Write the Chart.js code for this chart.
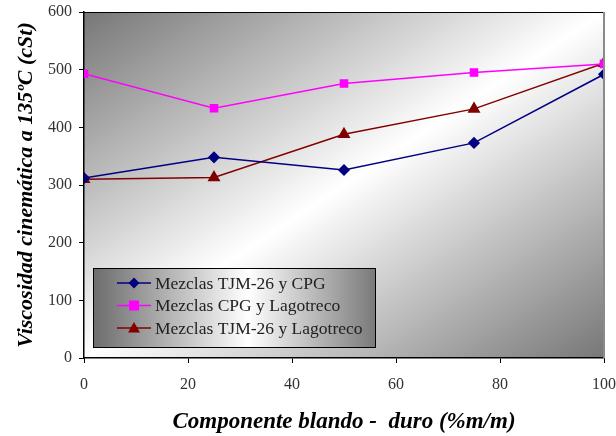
<!DOCTYPE html>
<html>
<head>
<meta charset="utf-8">
<script src="https://cdn.jsdelivr.net/npm/chart.js@4.4.1/dist/chart.umd.min.js"></script>
<style>
  html, body { margin: 0; padding: 0; background: #fff; }
  #wrap { width: 616px; height: 436px; }
</style>
</head>
<body>
<div id="wrap"><canvas id="lineChart" width="616" height="436"></canvas></div>
<script>
// percent of soft component
const componente = [0, 25, 50, 75, 100];
const tjmCpg = [312, 348, 326, 373, 492];
const cpgLago = [493, 433, 476, 495, 510];
const tjmLago = [310, 313, 388, 432, 511];
const seriesNames = ['Mezclas TJM-26 y CPG', 'Mezclas CPG y Lagotreco', 'Mezclas TJM-26 y Lagotreco'];

const serif = "'Liberation Serif', 'DejaVu Serif', serif";

const plotBackground = {
    id: 'plotBackground',
    beforeDraw(chart) {
        const a = chart.chartArea;
        const ctx = chart.ctx;
        const w = a.right - a.left, h = a.bottom - a.top;
        const cx = (a.left + a.right) / 2, cy = (a.top + a.bottom) / 2;
        const t = (w * h) / (w * w + h * h);
        const g = ctx.createLinearGradient(cx - t * h, cy - t * w, cx + t * h, cy + t * w);
        g.addColorStop(0, '#777777');
        g.addColorStop(0.5, '#ffffff');
        g.addColorStop(1, '#777777');
        ctx.save();
        ctx.fillStyle = g;
        ctx.fillRect(a.left, a.top, w, h);
        ctx.restore();
    },
    afterDraw(chart) {
        const a = chart.chartArea;
        const ctx = chart.ctx;
        ctx.save();
        ctx.strokeStyle = '#000';
        ctx.lineWidth = 1;
        ctx.beginPath();
        ctx.moveTo(a.left, a.top + 0.5);
        ctx.lineTo(a.right, a.top + 0.5);
        ctx.stroke();
        ctx.strokeStyle = '#8a8a8a';
        ctx.lineWidth = 2;
        ctx.beginPath();
        ctx.moveTo(a.right, a.top);
        ctx.lineTo(a.right, a.bottom);
        ctx.stroke();
        ctx.restore();
    }
};

// legend box with line + marker samples, like the original spreadsheet legend
const boxLegend = {
    id: 'boxLegend',
    afterDatasetsDraw(chart) {
        const ctx = chart.ctx;
        const x = 93, y = 268, w = 282, h = 79;
        ctx.save();
        const g = ctx.createLinearGradient(x, 0, x + w, 0);
        g.addColorStop(0, '#6c6c6c');
        g.addColorStop(0.55, '#ffffff');
        g.addColorStop(1, '#7a7a7a');
        ctx.fillStyle = g;
        ctx.fillRect(x, y, w, h);
        ctx.strokeStyle = '#000';
        ctx.lineWidth = 1;
        ctx.strokeRect(x + 0.5, y + 0.5, w, h);
        ctx.font = '17.5px ' + serif;
        ctx.textBaseline = 'middle';
        chart.data.datasets.forEach((ds, i) => {
            const ry = 283 + i * 22.5;
            ctx.strokeStyle = ds.borderColor;
            ctx.lineWidth = 1.5;
            ctx.beginPath();
            ctx.moveTo(117, ry);
            ctx.lineTo(151, ry);
            ctx.stroke();
            ctx.fillStyle = ds.pointBackgroundColor;
            ctx.beginPath();
            if (ds.pointStyle === 'rectRot') {
                ctx.moveTo(134, ry - 5.5); ctx.lineTo(139.5, ry); ctx.lineTo(134, ry + 5.5); ctx.lineTo(128.5, ry);
            } else if (ds.pointStyle === 'rect') {
                ctx.rect(129, ry - 5, 10, 10);
            } else {
                ctx.moveTo(134, ry - 6); ctx.lineTo(140, ry + 4.5); ctx.lineTo(128, ry + 4.5);
            }
            ctx.closePath();
            ctx.fill();
            ctx.fillStyle = '#222';
            ctx.fillText(ds.label, 155, ry + 1);
        });
        ctx.restore();
    }
};

const ctx = document.getElementById('lineChart').getContext('2d');
const myChart = new Chart(ctx, {
    type: 'line',
    data: {
        labels: componente,
        datasets: [
            {
                label: seriesNames[0],
                data: componente.map((c, i) => ({ x: c, y: tjmCpg[i] })),
                borderColor: '#000080',
                pointBackgroundColor: '#000080',
                pointBorderColor: '#000080',
                pointStyle: 'rectRot',
                pointRadius: 5,
                borderWidth: 1.5
            },
            {
                label: seriesNames[1],
                data: componente.map((c, i) => ({ x: c, y: cpgLago[i] })),
                borderColor: '#ff00ff',
                pointBackgroundColor: '#ff00ff',
                pointBorderColor: '#ff00ff',
                pointStyle: 'rect',
                pointRadius: 5,
                borderWidth: 1.5
            },
            {
                label: seriesNames[2],
                data: componente.map((c, i) => ({ x: c, y: tjmLago[i] })),
                borderColor: '#800000',
                pointBackgroundColor: '#800000',
                pointBorderColor: '#800000',
                pointStyle: 'triangle',
                pointRadius: 6,
                borderWidth: 1.5
            }
        ]
    },
    plugins: [plotBackground, boxLegend],
    options: {
        responsive: false,
        animation: false,
        layout: { padding: { top: 12, right: 12, left: 0, bottom: 0 } },
        plugins: {
            legend: { display: false },
            tooltip: { enabled: false }
        },
        scales: {
            x: {
                type: 'linear',
                min: 0,
                max: 100,
                ticks: { stepSize: 20, color: '#333', padding: 12, font: { family: serif, size: 16 } },
                grid: { drawOnChartArea: false, drawTicks: true, tickLength: 5, color: '#000' },
                border: { display: true, color: '#000', width: 1.5 },
                title: {
                    display: true,
                    text: 'Componente blando -  duro (%m/m)',
                    color: '#000',
                    padding: 0,
                    font: { family: serif, size: 23, style: 'italic', weight: 'bold' }
                },
                afterFit(scale) {
                    scale.height = 78;
                    scale.paddingLeft = 0;
                    scale.paddingRight = 0;
                }
            },
            y: {
                min: 0,
                max: 600,
                ticks: { stepSize: 100, color: '#333', padding: 7, font: { family: serif, size: 16 } },
                grid: { drawOnChartArea: false, drawTicks: true, tickLength: 5, color: '#000' },
                border: { display: true, color: '#000', width: 1.5 },
                title: {
                    display: true,
                    text: 'Viscosidad cinemática a 135ºC (cSt)',
                    color: '#000',
                    padding: { top: 13, bottom: 0 },
                    font: { family: serif, size: 22, style: 'italic', weight: 'bold' }
                },
                afterFit(scale) {
                    scale.width = 84;
                    scale.paddingTop = 0;
                    scale.paddingBottom = 0;
                }
            }
        }
    }
});
</script>
</body>
</html>
